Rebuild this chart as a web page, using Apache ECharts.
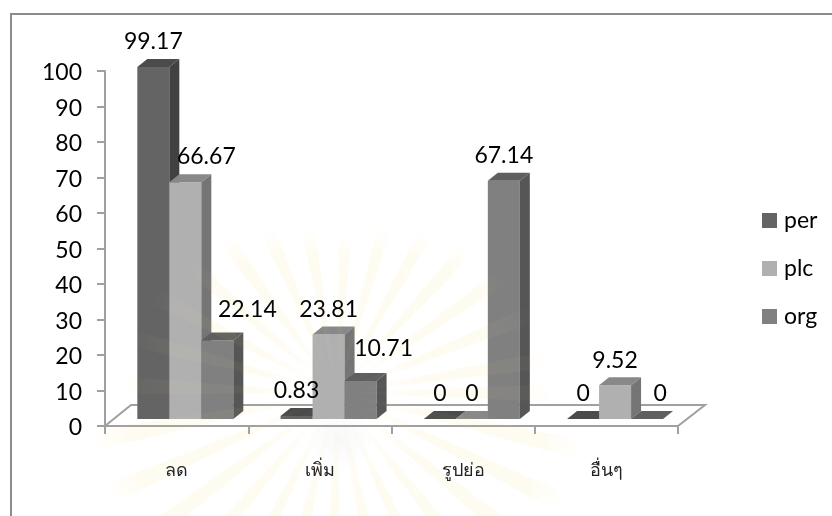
<!DOCTYPE html>
<html>
<head>
<meta charset="utf-8">
<style>html,body{margin:0;background:#fff}#chart{width:832px;height:516px}</style>
<script src="https://cdn.jsdelivr.net/npm/echarts@6/dist/echarts.min.js"></script>
</head>
<body>
<div id="chart"></div>
<script>
var categories = ['ลด', 'เพิ่ม', 'รูปย่อ', 'อื่นๆ'];
var perValues = [99.17, 0.83, 0, 0];
var plcValues = [66.67, 23.81, 0, 9.52];
var orgValues = [22.14, 10.71, 67.14, 0];
var yTicks = [0, 100];

// front, top, side shades of each 3d bar
var perShades = ['#646464', '#4b4b4b', '#414141'];
var plcShades = ['#b0b0b0', '#888888', '#757575'];
var orgShades = ['#808080', '#5f5f5f', '#565656'];

var barW = 32, depthX = 10, depthY = 8;
var floorX = 8.7, floorY = 7;
var fontName = 'Lato';

// labels were moved by hand in the original, these are the ones off centre
var labelMoves = {
    '0,1': [21, -1],
    '0,2': [30, -6],
    '1,2': [23, -7],
    '3,2': [13, 0]
};

var myChart = echarts.init(document.getElementById('chart'));

function barSeries(name, values, shades, slot) {
    return {
        name: name,
        type: 'custom',
        z: 3 + slot,
        itemStyle: { color: shades[0] },
        encode: { x: 0, y: 1 },
        data: values.map(function (v, i) { return [i, v]; }),
        renderItem: function (params, api) {
            var top = api.coord([api.value(0), api.value(1)]);
            var zero = api.coord([api.value(0), 0]);
            var x0 = top[0] + floorX + (slot - 1.5) * barW;
            var x1 = x0 + barW;
            var y0 = top[1] - floorY;
            var y1 = zero[1] - floorY;
            return {
                type: 'group',
                children: [
                    { type: 'rect', shape: { x: x0, y: y0, width: barW, height: y1 - y0 }, style: { fill: shades[0] } },
                    { type: 'polygon', shape: { points: [[x0, y0], [x0 + depthX, y0 - depthY], [x1 + depthX, y0 - depthY], [x1, y0]] }, style: { fill: shades[1] } },
                    { type: 'polygon', shape: { points: [[x1, y0], [x1 + depthX, y0 - depthY], [x1 + depthX, y1 - depthY], [x1, y1]] }, style: { fill: shades[2] } }
                ]
            };
        }
    };
}

function labelSeries() {
    var rows = [];
    [perValues, plcValues, orgValues].forEach(function (values, slot) {
        values.forEach(function (v, i) { rows.push([i, v, slot]); });
    });
    return {
        type: 'custom',
        z: 10,
        silent: true,
        encode: { x: 0, y: 1 },
        data: rows,
        renderItem: function (params, api) {
            var cat = api.value(0), val = api.value(1), slot = api.value(2);
            var p = api.coord([cat, val]);
            var move = labelMoves[cat + ',' + slot] || [0, 0];
            return {
                type: 'text',
                style: {
                    text: String(val),
                    x: p[0] + floorX + (slot - 1) * barW + move[0],
                    y: p[1] - floorY - 25 + move[1],
                    align: 'center',
                    verticalAlign: 'middle',
                    fontFamily: fontName,
                    fontSize: 23,
                    fill: '#000'
                }
            };
        }
    };
}

// faint watermark, one strong layer under the bars and a weak one over them
function rays(z, alpha) {
    var cx = 337, cy = 393, items = [];
    for (var deg = 0; deg < 360; deg += 13) {
        var a = deg * Math.PI / 180;
        var len = Math.sin(a) > 0 ? 250 : 155 + 60 * Math.abs(Math.cos(a));
        var w = 0.04;
        var c = 'rgba(250,235,170,' + alpha + ')';
        items.push({
            type: 'polygon', z: z, silent: true,
            shape: { points: [[cx, cy], [cx + len * Math.cos(a - w), cy + len * Math.sin(a - w)], [cx + len * Math.cos(a + w), cy + len * Math.sin(a + w)]] },
            style: { fill: { type: 'radial', x: cx, y: cy, r: len, global: true, colorStops: [{ offset: 0, color: 'rgba(250,235,170,0)' }, { offset: 0.4, color: c }, { offset: 0.85, color: c }, { offset: 1, color: 'rgba(250,235,170,0)' }] } }
        });
    }
    return items;
}

var option = {
    animation: false,
    backgroundColor: '#fff',
    grid: { left: 105, right: 154, top: 71, bottom: 90 },
    legend: {
        orient: 'vertical',
        left: 757,
        top: 204,
        icon: 'rect',
        itemWidth: 15,
        itemHeight: 15,
        itemGap: 25,
        selectedMode: false,
        data: ['per', 'plc', 'org'],
        textStyle: { fontFamily: fontName, fontSize: 23, color: '#000', padding: [0, 0, 0, 2] }
    },
    xAxis: {
        type: 'category',
        data: categories,
        axisLine: { lineStyle: { color: '#a0a0a0', width: 2 } },
        axisTick: { show: true, alignWithLabel: false, interval: 0, length: 8, lineStyle: { color: '#a0a0a0', width: 2 } },
        axisLabel: { margin: 36, fontSize: 18, color: '#222', fontFamily: 'Noto Sans, DejaVu Sans, sans-serif' }
    },
    yAxis: {
        type: 'value',
        min: yTicks[0],
        max: yTicks[1],
        interval: 10,
        splitLine: { show: false },
        axisLine: { show: true, lineStyle: { color: '#a0a0a0', width: 2 } },
        axisTick: { show: true, length: 8, lineStyle: { color: '#a0a0a0', width: 2 } },
        axisLabel: {
            margin: 23,
            formatter: '{v|{value}}',
            rich: { v: { fontSize: 23, color: '#000', fontFamily: fontName, padding: [4, 0, 0, 0] } }
        }
    },
    graphic: {
        elements: [
            { type: 'polyline', silent: true, shape: { points: [[11, 516], [11, 14], [832, 14]] }, style: { stroke: '#8c8c8c', lineWidth: 2, fill: null } },
            { type: 'polyline', silent: true, z: 1, shape: { points: [[105, 426], [131, 405], [705, 405], [678, 426]] }, style: { stroke: '#a0a0a0', lineWidth: 2, fill: null } },
            {
                type: 'ellipse', z: 0, silent: true,
                shape: { cx: 340, cy: 440, rx: 225, ry: 32 },
                style: { fill: { type: 'radial', x: 0.5, y: 0.5, r: 0.5, colorStops: [{ offset: 0, color: 'rgba(225,225,225,0.22)' }, { offset: 1, color: 'rgba(225,225,225,0)' }] } }
            }
        ].concat(rays(0, 0.13)).concat(rays(20, 0.04))
    },
    series: [
        barSeries('per', perValues, perShades, 0),
        barSeries('plc', plcValues, plcShades, 1),
        barSeries('org', orgValues, orgShades, 2),
        labelSeries()
    ]
};

myChart.setOption(option);
</script>
</body>
</html>
